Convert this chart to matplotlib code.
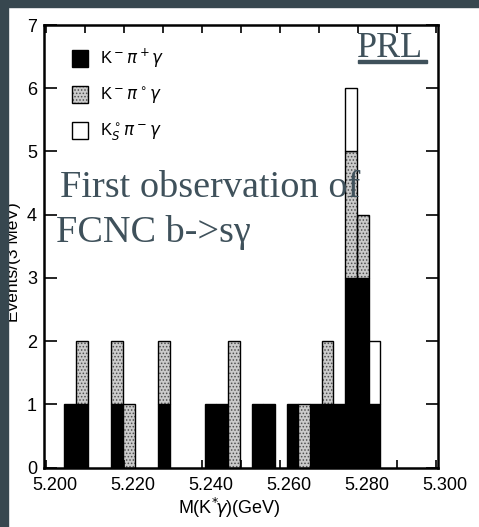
import matplotlib
matplotlib.use('Agg')
import matplotlib.pyplot as plt
import matplotlib.transforms as mtransforms
from matplotlib.patches import Patch, Rectangle
import numpy as np

# bin centres (GeV), 3 MeV bins, only the filled ones
mass = [5.2063, 5.2093, 5.2183, 5.2213, 5.2303, 5.2423, 5.2453, 5.2483, 5.2543,
        5.2573, 5.2633, 5.2663, 5.2693, 5.2723, 5.2753, 5.2783, 5.2813, 5.2843]
k_pi_gamma = [1, 1, 1, 0, 1, 1, 1, 0, 1, 1, 1, 0, 1, 1, 1, 3, 3, 1]
k_pi0_gamma = [0, 1, 1, 1, 1, 0, 0, 2, 0, 0, 0, 1, 0, 1, 0, 2, 1, 0]
ks_pi_gamma = [0, 0, 0, 0, 0, 0, 0, 0, 0, 0, 0, 0, 0, 0, 0, 1, 0, 1]
bin_width = 0.003

x_ticks = [5.200, 5.220, 5.240, 5.260, 5.280, 5.300]
x_tick_labels = ['5.200', '5.220', '5.240', '5.260', '5.280', '5.300']

slate = '#37474f'
text_slate = '#3f515b'
stipple_face = '#cbcbcb'
stipple_dots = '#505050'

plt.rcParams['font.family'] = ['Liberation Sans', 'DejaVu Sans']
plt.rcParams['hatch.linewidth'] = 0.7

fig = plt.figure(figsize=(4.79, 5.27), dpi=100)
W, H = 479, 527
ax = fig.add_axes([44 / W, 1 - 467.5 / H, (438 - 44) / W, (467.5 - 25) / H])

mass = np.array(mass)
black = np.array(k_pi_gamma)
grey = np.array(k_pi0_gamma)
white = np.array(ks_pi_gamma)

m = black > 0
ax.bar(mass[m], black[m], width=bin_width, color='black', edgecolor='black', linewidth=1.0)
m = grey > 0
ax.bar(mass[m], grey[m], bottom=black[m], width=bin_width, facecolor=stipple_face,
       edgecolor=stipple_dots, linewidth=0, hatch='.....')
ax.bar(mass[m], grey[m], bottom=black[m], width=bin_width, fill=False,
       edgecolor='black', linewidth=1.0)
m = white > 0
ax.bar(mass[m], white[m], bottom=(black + grey)[m], width=bin_width, facecolor='white',
       edgecolor='black', linewidth=1.0)

ax.set_xlim(5.1996, 5.3006)
ax.set_ylim(0, 7)
ax.set_xticks(x_ticks)
ax.set_xticklabels(x_tick_labels)
ax.set_xticks(np.arange(5.21, 5.30, 0.02), minor=True)
ax.set_yticks(range(0, 8))
ax.tick_params(axis='both', which='both', direction='in', top=True, right=True,
               labelsize=13, width=1.2)
ax.tick_params(axis='x', which='both', length=6, pad=7)
ax.tick_params(axis='y', length=9, pad=5)
for s in ax.spines.values():
    s.set_linewidth(1.8)

# labels in the scan sit a little right of their ticks
shift = mtransforms.ScaledTranslation(0.09, 0, fig.dpi_scale_trans)
for lab in ax.get_xticklabels():
    lab.set_transform(lab.get_transform() + shift)

handles = [Patch(facecolor='black', edgecolor='black'),
           (Patch(facecolor=stipple_face, edgecolor=stipple_dots, linewidth=0, hatch='.....'),
            Patch(fill=False, edgecolor='black', linewidth=1.0)),
           Patch(facecolor='white', edgecolor='black', linewidth=1.0)]
labels = [r'K$^-\pi^+\gamma$', r'K$^-\pi^\circ\gamma$', r'K$^\circ_S\pi^-\gamma$']
ax.legend(handles, labels, loc='upper left', bbox_to_anchor=(0.071, 0.95), frameon=False,
          fontsize=12, handlelength=0.96, handleheight=1.14, handletextpad=0.7,
          labelspacing=0.9, borderpad=0, borderaxespad=0)

fig.text(229 / W, 1 - 508 / H, r'M(K$^{*}\!\gamma$)(GeV)', ha='center', va='center', fontsize=13)
fig.text(13.5 / W, 1 - 262 / H, 'Events/(3 MeV)', rotation=90, ha='center', va='center',
         fontsize=12.5, zorder=5)

# slide overlay
fig.text(60 / W, 1 - 197 / H, 'First observation of', family='Liberation Serif',
         fontsize=27.5, color=text_slate, va='baseline', ha='left', zorder=6)
fig.text(56 / W, 1 - 242 / H, 'FCNC b->s\u03b3', family='Liberation Serif',
         fontsize=27.5, color=text_slate, va='baseline', ha='left', zorder=6)
fig.text(357 / W, 1 - 57 / H, 'PRL', family='Liberation Serif',
         fontsize=26, color=text_slate, va='baseline', ha='left', zorder=6)
fig.patches.append(Rectangle((358 / W, 1 - 63 / H), 69 / W, 3.5 / H, transform=fig.transFigure,
                             color=text_slate, zorder=6))

# dark slide border, left and top
fig.patches.append(Rectangle((0, 0), 7.5 / W, 1, transform=fig.transFigure, color=slate, zorder=10))
fig.patches.append(Rectangle((0, 1 - 7 / H), 1, 7 / H, transform=fig.transFigure, color=slate, zorder=10))

fig.savefig('out.png', dpi=100)
plt.close(fig)
